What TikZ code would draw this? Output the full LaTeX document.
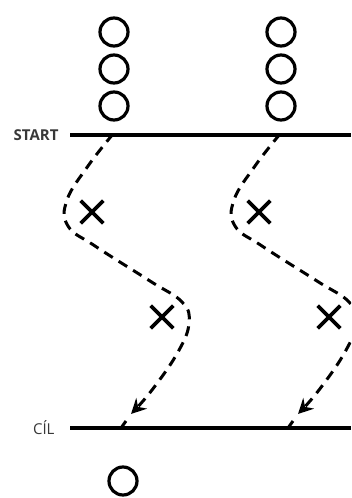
\documentclass[tikz,border=0pt]{standalone}
\usepackage{fontspec}
\setmainfont{Open Sans}
\usetikzlibrary{shapes.misc,arrows.meta}
\begin{document}
\begin{tikzpicture}[x=1pt,y=-1pt,
  player/.style={circle,draw,line width=3.2pt,minimum size=28pt,inner sep=0pt},
  cone/.style={cross out,draw,line width=3.6pt,minimum size=19pt,inner sep=0pt},
  mainline/.style={line width=3.6pt},
  lbl/.style={font=\fontsize{15}{15}\selectfont,text=black!78},
  run/.style={line width=3pt,dash pattern=on 10pt off 7pt,
    -{Stealth[length=15pt,width=15pt,inset=5pt]}},
  runend/.style={line width=3pt}]
\useasboundingbox (0,0) rectangle (351,498);
\clip (0,0) rectangle (351,498);
% players
\foreach \c/\x in {l/114,r/281}{
  \node[player] (\c1) at (\x,32) {};
  \node[player] (\c2) at (\x,69) {};
  \node[player] (\c3) at (\x,106) {};
}
\node[player] (goal) at (123,481) {};
% lines
\node[lbl,anchor=east,font=\fontsize{15}{15}\selectfont\bfseries] (start) at (62,135) {START};
\node[lbl,anchor=east] (cil) at (58,428) {CÍL};
\coordinate (sa) at (70,135);
\coordinate (sb) at (351,135);
\coordinate (ca) at (70,428);
\coordinate (cb) at (351,428);
\draw[mainline] (sa) -- (sb);
\draw[mainline] (ca) -- (cb);
% cones
\node[cone] (xl1) at (92,212) {};
\node[cone] (xl2) at (162,317) {};
\node[cone] (xr1) at (259,212) {};
\node[cone] (xr2) at (329,317) {};
% runs
\foreach \dx/\n in {0/l,167/r}{
  \coordinate (\n foot) at (121+\dx,428);
  \coordinate (\n mid) at (126+\dx,421);
  \draw[run] plot[smooth,tension=0.7] coordinates {(113+\dx,134) (88+\dx,166) (67+\dx,200) (68+\dx,226) (95+\dx,246) (150+\dx,281) (182+\dx,302) (189+\dx,323) (178+\dx,352) (152+\dx,390) (131+\dx,414)};
  \draw[runend] (\n mid) -- (\n foot);
}
\end{tikzpicture}
\end{document}
